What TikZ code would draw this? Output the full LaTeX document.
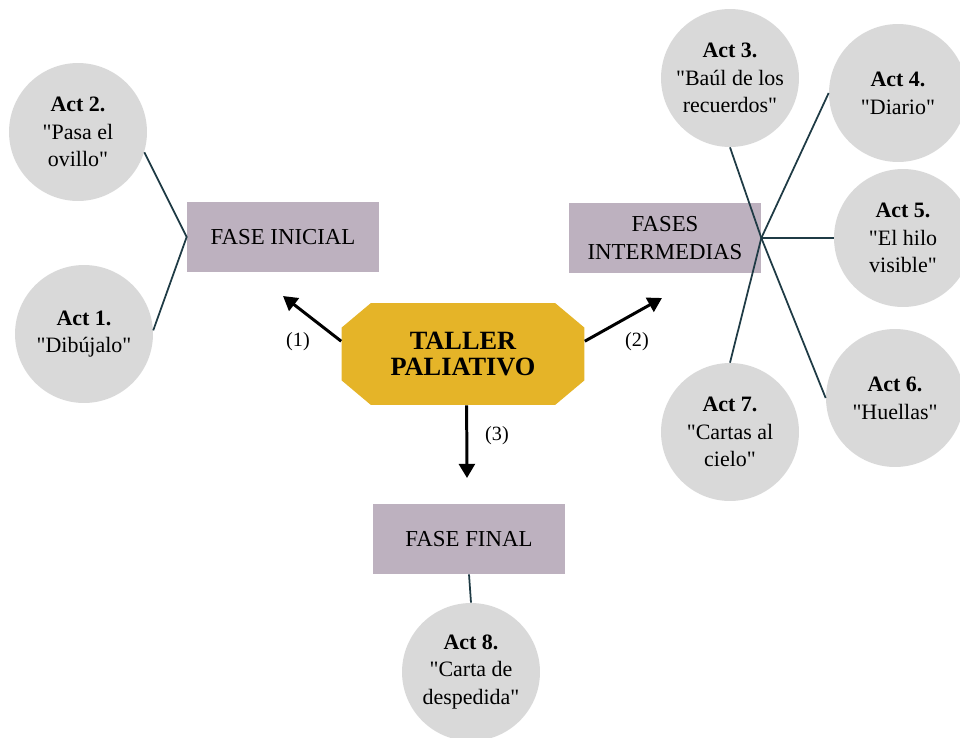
\documentclass[tikz,border=0pt]{standalone}
\usepackage{fontspec}
\setmainfont{Liberation Serif}[Ligatures=TeXOff]
\usetikzlibrary{arrows.meta,shapes.misc}
\definecolor{actgray}{HTML}{D9D9D9}
\definecolor{phasemauve}{HTML}{BDB1BF}
\definecolor{tallergold}{HTML}{E5B428}
\definecolor{linkteal}{HTML}{1F3B45}
\tikzset{
  act/.style={circle,fill=actgray,minimum size=2.76cm,inner sep=0pt,align=center,
    font=\fontsize{12.5}{15.8}\selectfont},
  phase/.style={rectangle,fill=phasemauve,minimum width=3.84cm,minimum height=1.4cm,
    inner sep=0pt,align=center,font=\fontsize{13}{16}\selectfont},
  link/.style={linkteal,line width=1pt},
  flow/.style={-{Triangle[length=8pt,width=9pt]},line width=1.7pt},
}
\begin{document}
\begin{tikzpicture}[x=0.02cm,y=-0.02cm]
  \useasboundingbox (0,0) rectangle (960,737);
  % centre
  \node[chamfered rectangle,chamfered rectangle angle=50,chamfered rectangle xsep=0.46cm,
    fill=tallergold,minimum width=4.86cm,minimum height=2.04cm,inner sep=0pt,align=center,
    font=\fontsize{15}{14.5}\selectfont\bfseries] (taller) at (463,354) {TALLER\\PALIATIVO};
  % phases
  \node[phase] (inicial) at (283,237) {FASE INICIAL};
  \node[phase] (inter) at (665,238) {FASES\\INTERMEDIAS};
  \node[phase] (final) at (469,539) {FASE FINAL};
  % activities
  \node[act] (act2) at (78,132) {\textbf{Act 2.}\\"Pasa el\\ovillo"};
  \node[act] (act1) at (84,334) {\textbf{Act 1.}\\"Dibújalo"};
  \node[act] (act3) at (730,78) {\textbf{Act 3.}\\"Baúl de los\\recuerdos"};
  \node[act] (act4) at (898,93) {\textbf{Act 4.}\\"Diario"};
  \node[act] (act5) at (903,238) {\textbf{Act 5.}\\"El hilo\\visible"};
  \node[act] (act6) at (895,398) {\textbf{Act 6.}\\"Huellas"};
  \node[act] (act7) at (730,432) {\textbf{Act 7.}\\"Cartas al\\cielo"};
  \node[act] (act8) at (471,672) {\textbf{Act 8.}\\"Carta de\\despedida"};
  % links
  \draw[link] (act2.-17) -- (inicial.west) -- (act1.3);
  \draw[link] (act3.-90) -- (inter.east);
  \draw[link] (act4.180) -- (inter.east);
  \draw[link] (act5.180) -- (inter.east);
  \draw[link] (act6.180) -- (inter.east);
  \draw[link] (act7.90) -- (inter.east);
  \draw[link] (final.south) -- (act8.north);
  % arrows
  \coordinate (c1) at (283,296);
  \coordinate (c2) at (662,298);
  \coordinate (c3) at (467,478);
  \draw[flow] (taller.174) -- (c1);
  \draw[flow] (taller.6) -- (c2);
  \draw[flow] (taller.-86) -- (c3);
  \node[font=\fontsize{11.5}{13}\selectfont] (n1) at (298,342) {(1)};
  \node[font=\fontsize{11.5}{13}\selectfont] (n2) at (637,342) {(2)};
  \node[font=\fontsize{11.5}{13}\selectfont] (n3) at (497,436) {(3)};
\end{tikzpicture}
\end{document}
